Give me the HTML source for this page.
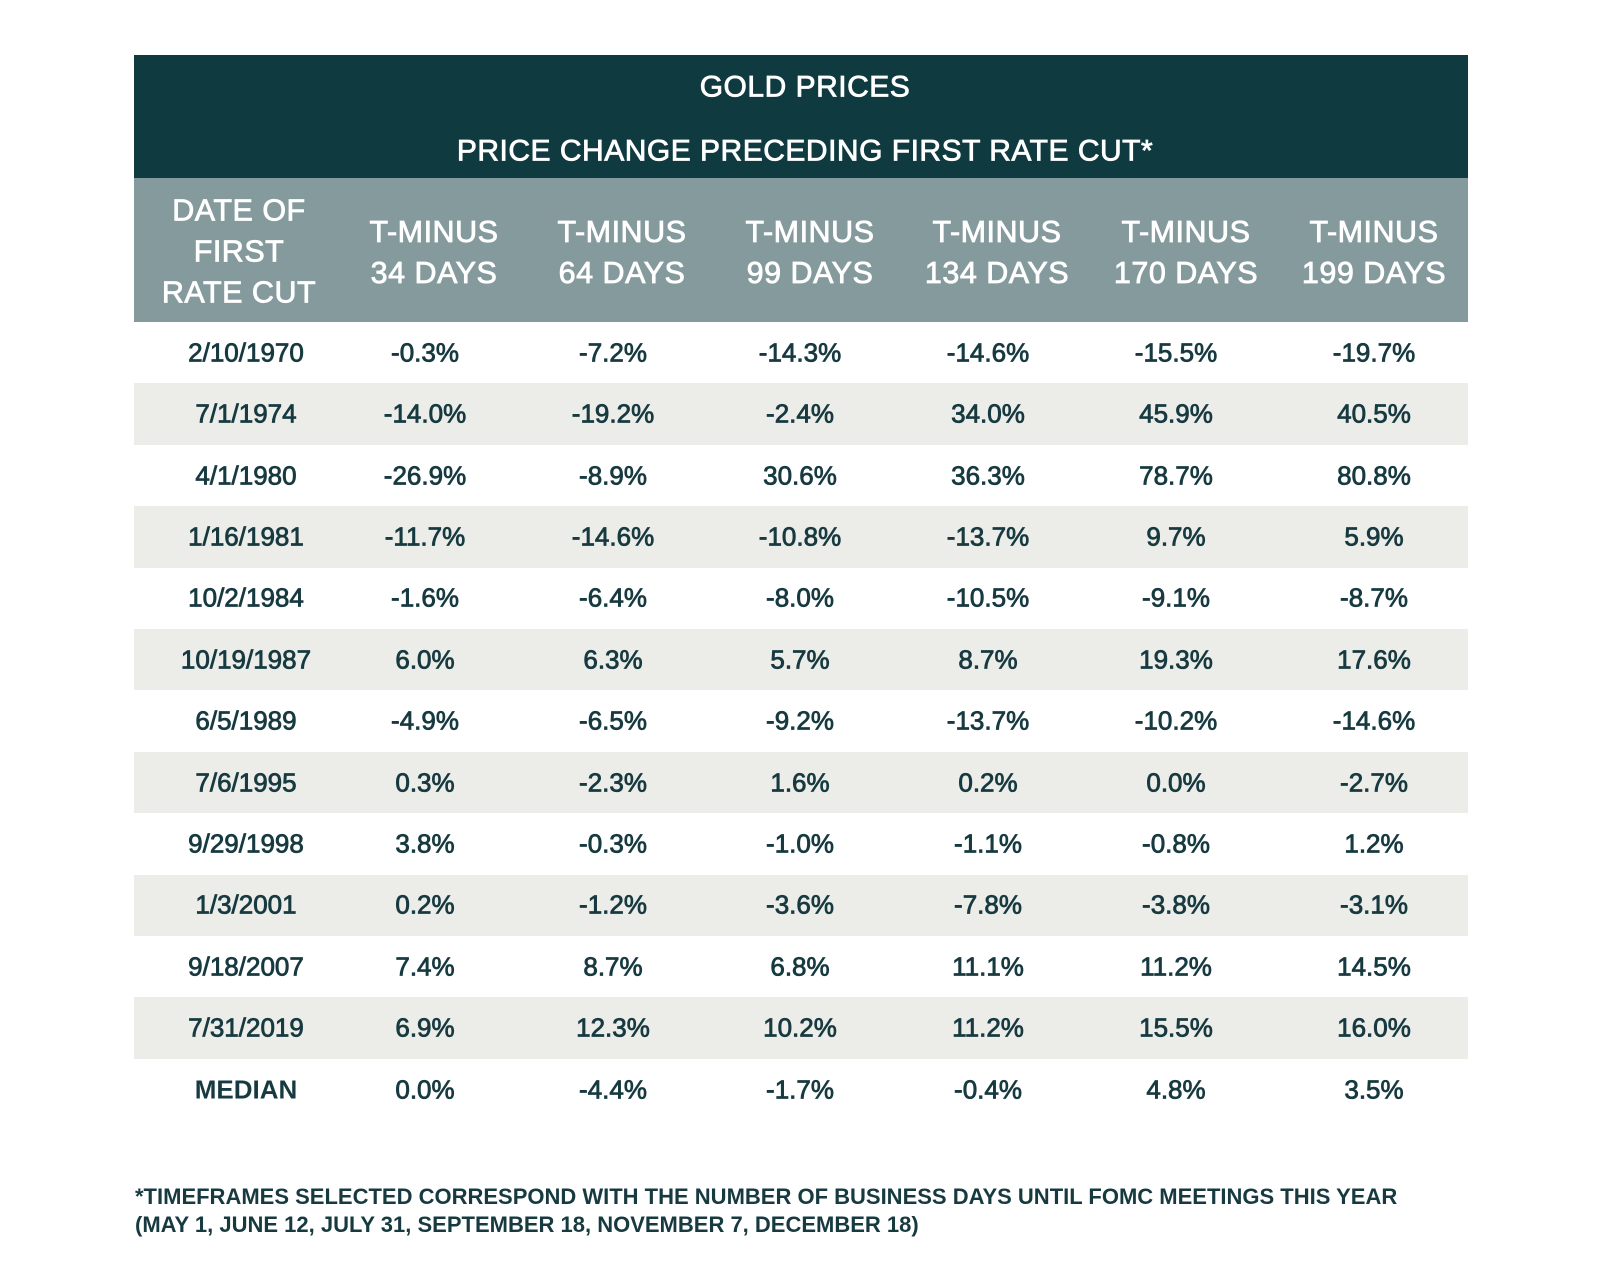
<!DOCTYPE html>
<html><head><meta charset="utf-8">
<style>
body{margin:0;width:1600px;height:1282px;background:#fff;position:relative;overflow:hidden;font-family:"Liberation Sans",sans-serif;color:#173a40}
.abs{position:absolute}
.c{position:absolute;transform:translate(-50%,-50%);white-space:nowrap;text-align:center}
.hdr{color:#fff;font-size:30.5px;line-height:41px;-webkit-text-stroke:0.8px #fff;letter-spacing:0.5px}
.cell{font-size:26px;-webkit-text-stroke:0.8px #173a40}
</style></head><body>
<div class="abs" style="left:134px;top:55px;width:1334px;height:123px;background:#0e3a40"></div>
<div class="c hdr" style="left:805px;top:87px;font-size:30px">GOLD PRICES</div>
<div class="c hdr" style="left:805px;top:151px;font-size:30px">PRICE CHANGE PRECEDING FIRST RATE CUT*</div>
<div class="abs" style="left:134px;top:178px;width:1334px;height:144px;background:#849a9c"></div>
<div id="t"></div>
<div class="abs" style="left:135px;top:1183px;font-size:22px;line-height:28px;font-weight:bold;color:#173a40">*TIMEFRAMES SELECTED CORRESPOND WITH THE NUMBER OF BUSINESS DAYS UNTIL FOMC MEETINGS THIS YEAR<br>(MAY 1, JUNE 12, JULY 31, SEPTEMBER 18, NOVEMBER 7, DECEMBER 18)</div>
<script>
const headers=["DATE OF<br>FIRST<br>RATE CUT","T-MINUS<br>34 DAYS","T-MINUS<br>64 DAYS","T-MINUS<br>99 DAYS","T-MINUS<br>134 DAYS","T-MINUS<br>170 DAYS","T-MINUS<br>199 DAYS"];
const dates=["2/10/1970","7/1/1974","4/1/1980","1/16/1981","10/2/1984","10/19/1987","6/5/1989","7/6/1995","9/29/1998","1/3/2001","9/18/2007","7/31/2019","MEDIAN"];
const values=[
["-0.3%","-7.2%","-14.3%","-14.6%","-15.5%","-19.7%"],
["-14.0%","-19.2%","-2.4%","34.0%","45.9%","40.5%"],
["-26.9%","-8.9%","30.6%","36.3%","78.7%","80.8%"],
["-11.7%","-14.6%","-10.8%","-13.7%","9.7%","5.9%"],
["-1.6%","-6.4%","-8.0%","-10.5%","-9.1%","-8.7%"],
["6.0%","6.3%","5.7%","8.7%","19.3%","17.6%"],
["-4.9%","-6.5%","-9.2%","-13.7%","-10.2%","-14.6%"],
["0.3%","-2.3%","1.6%","0.2%","0.0%","-2.7%"],
["3.8%","-0.3%","-1.0%","-1.1%","-0.8%","1.2%"],
["0.2%","-1.2%","-3.6%","-7.8%","-3.8%","-3.1%"],
["7.4%","8.7%","6.8%","11.1%","11.2%","14.5%"],
["6.9%","12.3%","10.2%","11.2%","15.5%","16.0%"],
["0.0%","-4.4%","-1.7%","-0.4%","4.8%","3.5%"]];
const hx=[239,434,622,810,997,1186,1374];
const cx=[246,425,613,800,988,1176,1374];
const t=document.getElementById('t');
const top0=322,rh=61.4;
headers.forEach((h,i)=>{
 const d=document.createElement('div');d.className='c hdr';
 
 
 d.style.left=hx[i]+'px';d.style.top=(i==0?252:253)+'px';d.innerHTML=h;t.appendChild(d);
});
dates.forEach((dt,r)=>{
 const y=top0+r*rh;
 if(r%2==1){const b=document.createElement('div');b.className='abs';
  
  
  b.style.cssText=`left:134px;top:${y}px;width:1334px;height:${rh}px;background:#ecece9`;t.appendChild(b);}
 const row=[dt].concat(values[r]);
 row.forEach((v,i)=>{const d=document.createElement('div');d.className='c cell';
  
  
  d.style.left=cx[i]+'px';d.style.top=(y+rh/2)+'px';d.textContent=v;
  if(dt==='MEDIAN'&&i==0){d.style.fontWeight='bold';d.style.webkitTextStroke='0';}
  t.appendChild(d);});
});
</script>
</body></html>
